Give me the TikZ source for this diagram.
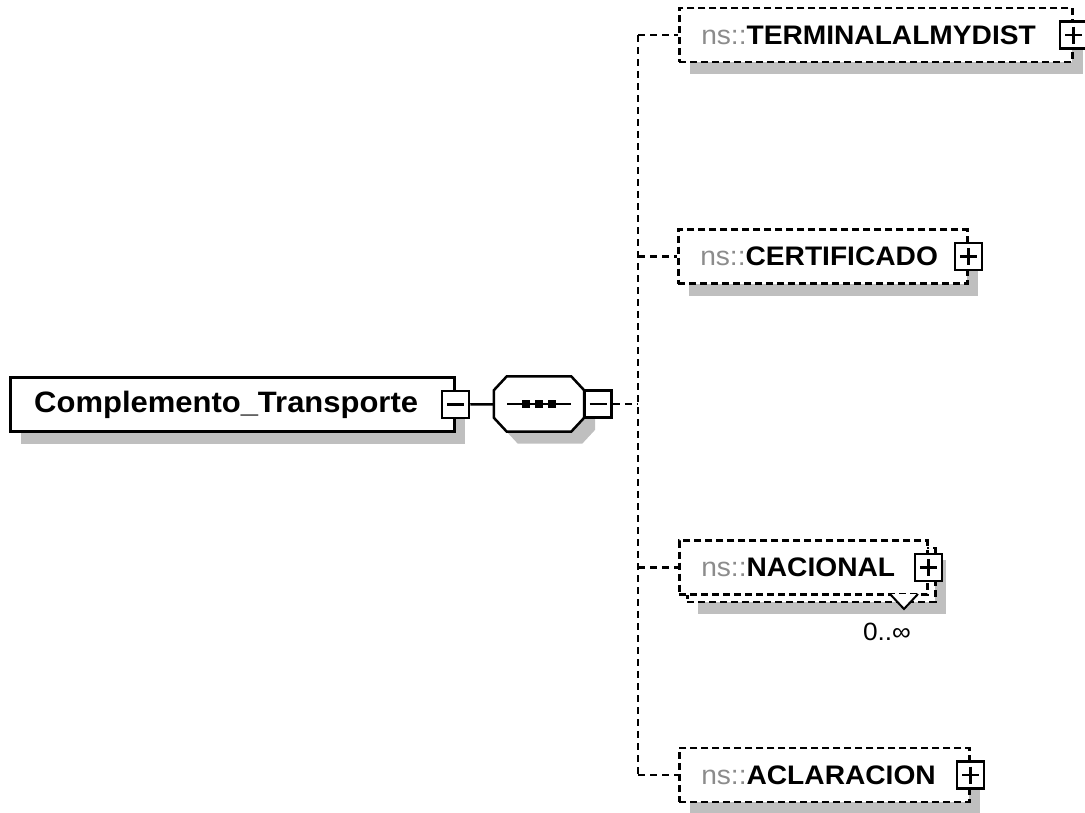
\documentclass[tikz,border=0pt]{standalone}
\usepackage{fontspec}
\setmainfont{Liberation Sans}[FakeStretch=1.05]
\usetikzlibrary{shadows}
\begin{document}
\begin{tikzpicture}[x=1pt,y=-1pt]
        \tikzstyle{box}=[rectangle,anchor=west,draw=black,fill=white,line width=2.5pt,minimum height=54pt,inner ysep=0pt,align=left]
        \tikzstyle{shade}=[drop shadow={shadow xshift=11pt,shadow yshift=-12pt,fill=black!25,opacity=1}]
        \tikzstyle{optional}=[box,dash pattern=on 7pt off 4pt,inner xsep=22pt,font=\fontsize{26.8}{29}\selectfont]
        \tikzstyle{plusbox}=[rectangle,draw=black,fill=white,line width=2.5pt,minimum size=27pt,inner sep=0pt,
                path picture={\draw[line width=2.5pt] ([xshift=5pt]path picture bounding box.west) -- ([xshift=-5pt]path picture bounding box.east);
                              \draw[line width=2.5pt] ([yshift=-5pt]path picture bounding box.north) -- ([yshift=5pt]path picture bounding box.south);}]
        \tikzstyle{minusbox}=[rectangle,draw=black,fill=white,line width=2.5pt,minimum size=27pt,inner sep=0pt,
                path picture={\draw[line width=2.5pt] ([xshift=5pt]path picture bounding box.west) -- ([xshift=-5pt]path picture bounding box.east);}]
        \tikzstyle{edge}=[draw=black,line width=2.5pt]
        \tikzstyle{dashedge}=[draw=black,line width=2.5pt,dash pattern=on 7pt off 5pt]
        \newcommand{\nsp}{{\fontseries{m}\selectfont\color{black!45}ns::}}

        \useasboundingbox (0,0) rectangle (1085,812);

        \begin{scope}
                % root element and sequence
                \node [box,shade,minimum width=444pt,text width=396pt,inner xsep=24pt,font=\fontsize{29.5}{32}\selectfont\bfseries] (root) at (9,404.5) {Complemento\_Transporte};
                \node [minusbox] (rootx) at (root.east) {};
                \node [minimum width=90pt,minimum height=55pt,inner sep=0pt] (seq) at (539,404) {};
                \draw [edge,fill=white,shade] ([xshift=13pt]seq.north west) -- ([xshift=-13pt]seq.north east) -- ([yshift=-14pt]seq.north east)
                        -- ([yshift=14pt]seq.south east) -- ([xshift=-13pt]seq.south east) -- ([xshift=13pt]seq.south west)
                        -- ([yshift=14pt]seq.south west) -- ([yshift=-14pt]seq.north west) -- cycle;
                \draw [edge] ([xshift=-32pt]seq.center) -- ([xshift=32pt]seq.center);
                \foreach \dx in {-13,0,13}
                        \fill ([xshift=\dx pt]seq.center) +(-4,-4) rectangle +(4,4);
                \node [minusbox] (seqx) at ([xshift=14pt]seq.east) {};
                \path [edge] (rootx) -- (seq);

                % child elements
                \node [optional,shade,minimum width=393pt,text width=349pt] (term) at (678,35) {\nsp\textbf{TERMINALALMYDIST}};
                \node [optional,shade,minimum width=289pt,text width=245pt] (cert) at (677,256.5) {\nsp\textbf{CERTIFICADO}};
                \node [optional,shade,minimum width=248pt] (nacback) at (686,575) {};
                \node [optional,minimum width=248pt,text width=204pt] (nac) at (678,567.5) {\nsp\textbf{NACIONAL}};
                \node [optional,shade,minimum width=290pt,text width=246pt] (acla) at (678,775) {\nsp\textbf{ACLARACION}};

                \node [plusbox] (termx) at (term.east) {};
                \node [plusbox] (certx) at (cert.east) {};
                \node [plusbox] (nacx) at (nac.east) {};
                \node [plusbox] (aclax) at (acla.east) {};

                \draw [line width=2pt,fill=white] (890,594) -- (904,609) -- (918,594);
                \node [font=\fontsize{25}{27}\selectfont] (nacocc) at (887,632) {0..∞};

                % trunk and branches
                \coordinate (ttop) at (638,35);
                \coordinate (tbot) at (638,775);
                \path [dashedge] (seqx) -- (seqx -| ttop);
                \path [dashedge] (ttop) -- (tbot);
                \path [dashedge] (ttop) -- (term.west);
                \path [dashedge] (cert.west -| ttop) -- (cert.west);
                \path [dashedge] (nac.west -| ttop) -- (nac.west);
                \path [dashedge] (tbot) -- (acla.west);
        \end{scope}
\end{tikzpicture}
\end{document}
